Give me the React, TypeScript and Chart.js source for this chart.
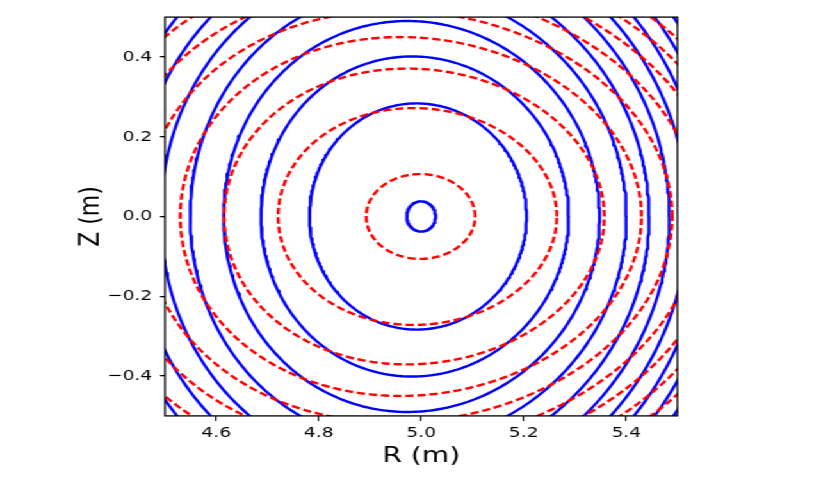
import React, { useEffect, useRef } from 'react';
import { Chart, registerables } from 'chart.js';

Chart.register(...registerables);

// ---- data ----
const xTicks = [4.6, 4.8, 5.0, 5.2, 5.4];
const yTicks = [-0.4, -0.2, 0.0, 0.2, 0.4];
const xLimits = [4.5, 5.5];
const yLimits = [-0.5, 0.5];
const magneticAxisR = 5.0;

// contour levels (normalised flux) of the solid blue surfaces
const blueLevels = [0.0008, 0.0447, 0.0894, 0.1331, 0.1785, 0.2229, 0.2673, 0.3117, 0.3561, 0.4005, 0.4449];
// contour levels of the dashed red surfaces
const redLevels = [0.0113, 0.0737, 0.1368, 0.2008, 0.2638, 0.327, 0.39, 0.453, 0.516, 0.579];

// surface shape parameters (outward shift, elongation, toroidal factor)
const blueShape = { shift: 0.14, elong: 1.34, tor: 2 };
const redShape = { shift: 0.1, elong: 1.0, tor: 2 };

const xTitle = 'R (m)';
const yTitle = 'Z (m)';

// ---- layout ----
const PAGE_W = 830;
const PAGE_H = 485;
const W = 648; // drawn narrower, then stretched horizontally like the reference
const SX = PAGE_W / W;

function contourPoints(level: number, shape: { shift: number; elong: number; tor: number }, n = 400) {
  const s = Math.sqrt(level);
  const pts: { x: number; y: number }[] = [];
  for (let i = 0; i <= n; i++) {
    const th = (2 * Math.PI * i) / n;
    const hv = s * Math.cos(th);
    const x = (-1 + Math.sqrt(1 + 4 * shape.shift * hv)) / (2 * shape.shift);
    const g = Math.pow(1 + x / magneticAxisR, shape.tor);
    const z = (shape.elong * s * Math.sin(th)) / Math.sqrt(g);
    pts.push({ x: magneticAxisR + x, y: z });
  }
  return pts;
}

const fmt = (v: number) => {
  const t = Math.abs(v) < 1e-9 ? '0.0' : v.toFixed(1);
  return t.replace('-', '\u2212');
};

const framePlugin = {
  id: 'frame',
  afterDatasetsDraw(chart: any) {
    const { ctx, chartArea: a } = chart;
    ctx.save();
    ctx.strokeStyle = '#000';
    ctx.lineWidth = 1.3;
    ctx.strokeRect(a.left, a.top, a.right - a.left, a.bottom - a.top);
    ctx.restore();
  },
};

export default function App() {
  const ref = useRef<HTMLCanvasElement | null>(null);

  useEffect(() => {
    if (!ref.current) return;
    const red = redLevels.map((lv) => ({
      data: contourPoints(lv, redShape),
      showLine: true,
      borderColor: '#ff0000',
      borderWidth: 2.4,
      borderDash: [6.5, 3],
      borderJoinStyle: 'round',
      pointRadius: 0,
      fill: false,
      clip: 0,
    }));
    const blue = blueLevels.map((lv) => ({
      data: contourPoints(lv, blueShape),
      showLine: true,
      borderColor: '#0000ff',
      borderWidth: 2.4,
      borderJoinStyle: 'round',
      borderCapStyle: 'round',
      pointRadius: 0,
      fill: false,
      clip: 0,
    }));

    const padLeft = 57.7;
    const padRight = W - 677.5 / SX;
    const padTop = 17.1;
    const padBottom = 15.6;
    const chartLeft = 165 / SX;
    const chartBottom = 415.9;

    const chart = new Chart(ref.current, {
      type: 'scatter',
      data: { datasets: [...red, ...blue] as any },
      options: {
        animation: false,
        responsive: false,
        devicePixelRatio: 1,
        events: [],
        layout: { padding: { left: padLeft, right: padRight, top: padTop, bottom: padBottom } },
        plugins: { legend: { display: false }, tooltip: { enabled: false } },
        scales: {
          x: {
            type: 'linear',
            min: xLimits[0],
            max: xLimits[1],
            afterBuildTicks: (s: any) => {
              s.ticks = xTicks.map((v) => ({ value: v }));
            },
            afterFit: (s: any) => {
              s.height = PAGE_H - padBottom - chartBottom;
              s.paddingLeft = 0;
              s.paddingRight = 0;
            },
            grid: {
              display: true,
              drawOnChartArea: false,
              drawTicks: true,
              tickLength: 5,
              color: '#000',
              lineWidth: 1.1,
            },
            border: { display: false },
            ticks: {
              color: '#000',
              padding: 3.5,
              maxRotation: 0,
              font: { family: 'DejaVu Sans', size: 14.5 },
              callback: (v: any) => fmt(Number(v)),
            },
            title: {
              display: true,
              text: xTitle,
              color: '#000',
              padding: 0,
              font: { family: 'DejaVu Sans', size: 22 },
            },
          },
          y: {
            type: 'linear',
            min: yLimits[0],
            max: yLimits[1],
            afterBuildTicks: (s: any) => {
              s.ticks = yTicks.map((v) => ({ value: v }));
            },
            afterFit: (s: any) => {
              s.width = chartLeft - padLeft;
              s.paddingTop = 0;
              s.paddingBottom = 0;
            },
            grid: {
              display: true,
              drawOnChartArea: false,
              drawTicks: true,
              tickLength: 3.9,
              color: '#000',
              lineWidth: 1.3,
            },
            border: { display: false },
            ticks: {
              color: '#000',
              padding: 6.2,
              font: { family: 'DejaVu Sans', size: 14.5 },
              callback: (v: any) => fmt(Number(v)),
            },
            title: {
              display: true,
              text: yTitle,
              color: '#000',
              padding: 0,
              font: { family: 'DejaVu Sans', size: 22 },
            },
          },
        },
      } as any,
      plugins: [framePlugin],
    });
    return () => chart.destroy();
  }, []);

  return (
    <div
      style={{
        position: 'absolute',
        left: 0,
        top: 0,
        width: W,
        height: PAGE_H,
        transform: `scaleX(${SX})`,
        transformOrigin: '0 0',
        background: '#fff',
      }}
    >
      <canvas ref={ref} width={W} height={PAGE_H} style={{ display: 'block' }} />
    </div>
  );
}
